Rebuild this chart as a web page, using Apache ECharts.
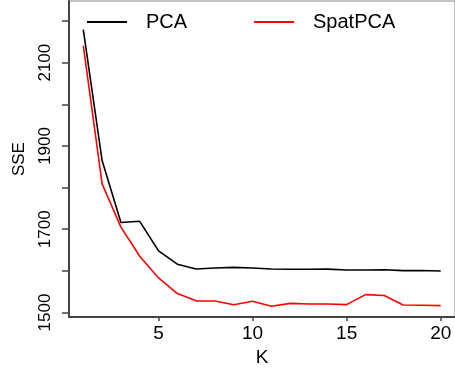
<!DOCTYPE html>
<html>
<head>
<meta charset="utf-8">
<script src="https://cdn.jsdelivr.net/npm/echarts@6/dist/echarts.min.js"></script>
<style>
html,body{margin:0;padding:0;background:#fff;}
#chart{width:455px;height:372px;}
</style>
</head>
<body>
<div id="chart"></div>
<script>
var kValues = [1,2,3,4,5,6,7,8,9,10,11,12,13,14,15,16,17,18,19,20];
var pcaSSE = [2179,1865,1716,1719,1648,1616,1604.5,1607,1608.5,1607,1604.6,1603.8,1603.8,1604.3,1602.2,1602,1602.8,1600.7,1601,1599.8];
var spatSSE = [2141,1809,1705,1635,1583,1545.5,1528,1527.5,1518.5,1527,1515,1522,1520.4,1520.4,1519,1543,1541,1518,1517.3,1516.5];
var xTicks = [5,10,15,20];
var yTicks = [1500,1600,1700,1800,1900,2000,2100,2200];
var yLabels = [1500,1700,1900,2100];
var seriesNames = ['PCA','SpatPCA'];

function pairs(xs, ys){ return xs.map(function(x,i){ return [x, ys[i]]; }); }

var font = 'Liberation Sans, Arial, Helvetica, sans-serif';
var chart = echarts.init(document.getElementById('chart'), null, {renderer:'canvas'});
chart.setOption({
  animation:false,
  backgroundColor:'#ffffff',
  grid:{left:69, top:1, width:388, height:322, show:true, borderColor:'#888888', borderWidth:1, backgroundColor:'transparent'},
  legend:[
    {data:[seriesNames[0]], left:87, top:12, padding:0, itemWidth:40, itemHeight:2, icon:'rect',
     textStyle:{fontFamily:font, fontSize:20, color:'#000', padding:[0,0,0,14]}},
    {data:[seriesNames[1]], left:254, top:12, padding:0, itemWidth:40, itemHeight:2, icon:'rect',
     textStyle:{fontFamily:font, fontSize:20, color:'#000', padding:[0,0,0,14]}}
  ],
  xAxis:{
    type:'value', min:0.24, max:20.76,
    name:'K', nameLocation:'middle', nameGap:28,
    nameTextStyle:{fontFamily:font, fontSize:19, color:'#000'},
    axisLine:{show:true, onZero:false, lineStyle:{color:'#444', width:2}},
    axisTick:{show:true, length:4, customValues:xTicks, lineStyle:{color:'#444', width:1.5}},
    axisLabel:{customValues:xTicks, margin:7, fontFamily:font, fontSize:19, color:'#000',
      formatter:function(v){ return String(v); }},
    splitLine:{show:false}
  },
  yAxis:{
    type:'value', min:1489, max:2248,
    name:'SSE', nameLocation:'middle', nameGap:41, nameRotate:90,
    nameTextStyle:{fontFamily:font, fontSize:17, color:'#000'},
    axisLine:{show:true, onZero:false, lineStyle:{color:'#444', width:2}},
    axisTick:{show:true, length:7, customValues:yTicks, lineStyle:{color:'#444', width:1.5}},
    axisLabel:{customValues:yLabels, rotate:90, margin:15, fontFamily:font, fontSize:17, color:'#000',
      formatter:function(v){ return String(v); }},
    splitLine:{show:false}
  },
  series:[
    {name:seriesNames[0], type:'line', data:pairs(kValues,pcaSSE), showSymbol:false, symbol:'none',
     lineStyle:{color:'#000000', width:1.6}, itemStyle:{color:'#000000'}},
    {name:seriesNames[1], type:'line', data:pairs(kValues,spatSSE), showSymbol:false, symbol:'none',
     lineStyle:{color:'#ff0000', width:1.6}, itemStyle:{color:'#ff0000'}}
  ]
});
</script>
</body>
</html>
